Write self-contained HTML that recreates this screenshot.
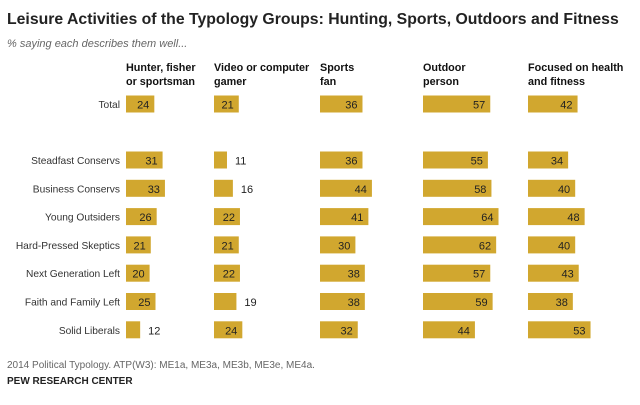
<!DOCTYPE html>
<html><head><meta charset="utf-8"><style>
body{margin:0;background:#fff;font-family:"Liberation Sans",Arial,sans-serif;}
#c{position:relative;width:640px;height:405px;overflow:hidden}
</style></head><body>
<div id="c">
<svg width="640" height="405" id="svg">
<text x="7" y="24" font-size="15.8" font-weight="bold" fill="#222">Leisure Activities of the Typology Groups: Hunting, Sports, Outdoors and Fitness</text>
<text x="7" y="47" font-size="11" font-style="italic" fill="#666">% saying each describes them well...</text>
<text x="7" y="368" font-size="10" fill="#666">2014 Political Typology. ATP(W3): ME1a, ME3a, ME3b, ME3e, ME4a.</text>
<text x="7" y="384" font-size="10" font-weight="bold" fill="#222">PEW RESEARCH CENTER</text>
</svg>
</div>
<script>
const categories=["Total","Steadfast Conservs","Business Conservs","Young Outsiders","Hard-Pressed Skeptics","Next Generation Left","Faith and Family Left","Solid Liberals"];
const columns=[["Hunter, fisher","or sportsman"],["Video or computer","gamer"],["Sports","fan"],["Outdoor","person"],["Focused on health","and fitness"]];
const hunter=[24,31,33,26,21,20,25,12];
const gamer=[21,11,16,22,21,22,19,24];
const sports=[36,36,44,41,30,38,38,32];
const outdoor=[57,55,58,64,62,57,59,44];
const fitness=[42,34,40,48,40,43,38,53];
const series=[hunter,gamer,sports,outdoor,fitness];
const NS="http://www.w3.org/2000/svg";
const svg=document.getElementById('svg');
const colX=[126,214,320,423,528];
const scale=1.18;
const rowY=i=>i===0?104:160+(i-1)*28.3;
function mk(t,a){const e=document.createElementNS(NS,t);for(const k in a)e.setAttribute(k,a[k]);svg.appendChild(e);return e;}
columns.forEach((c,j)=>{c.forEach((line,k)=>{
 const t=mk('text',{x:colX[j],y:71+k*14,'font-size':10.8,'font-weight':'bold',fill:'#111'});
 t.textContent=line;
 
 
});});
categories.forEach((cat,i)=>{
 const y=rowY(i);
 const l=mk('text',{x:120,y:y+4,'font-size':10.2,fill:'#333','text-anchor':'end'});
 l.textContent=cat;
 
 
 series.forEach((s,j)=>{
  const w=s[i]*scale;
  const r=mk('rect',{x:colX[j],y:y-8.5,width:w,height:17,fill:'#D1A72F'});
  
  
  const inside=s[i]>=20;
  const t=mk('text',{x:inside?colX[j]+w-5:colX[j]+w+8,y:y+4.5,'font-size':11,fill:'#222','text-anchor':inside?'end':'start'});
  t.textContent=s[i];
  
  
 });
});
</script>
</body></html>
